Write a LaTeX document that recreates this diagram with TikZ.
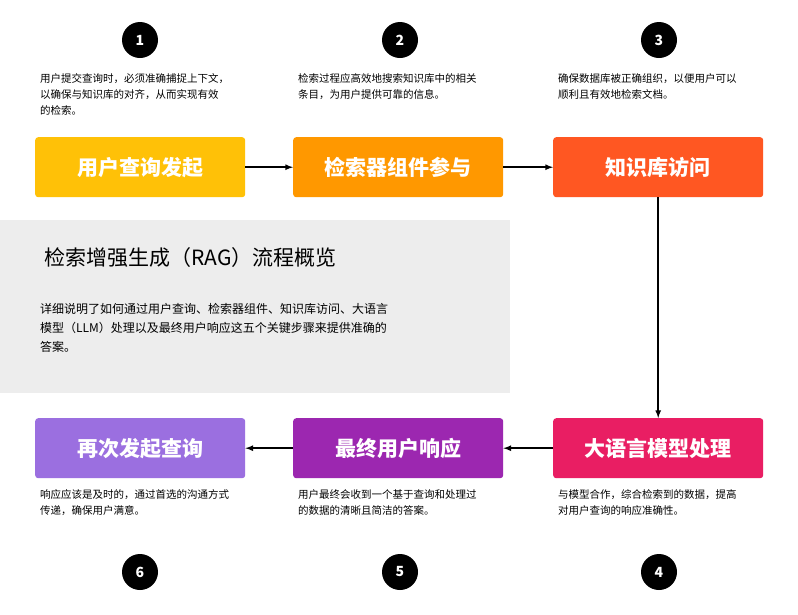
\documentclass[tikz,border=0pt]{standalone}
\usepackage{fontspec}
\setmainfont{Noto Sans CJK SC}
\begin{document}
\begin{tikzpicture}[x=1pt,y=-1pt,
  stepbox/.style={draw=none,rounded corners=3pt,minimum width=210pt,minimum height=60pt,text=white,font=\fontsize{21}{24}\selectfont\bfseries,anchor=north west},
  num/.style={circle,fill=black,minimum size=36pt,text=white,font=\fontsize{14}{16}\selectfont\bfseries,inner sep=0},
  desc/.style={anchor=north west,text width=225pt,font=\fontsize{10.5}{16}\selectfont,inner sep=0,align=left},
  arr/.style={-latex,line width=1.6pt}]
\useasboundingbox (0,0) rectangle (798,614);
\fill[white] (0,0) rectangle (798,614);
\definecolor{c1}{HTML}{FFC107}\definecolor{c2}{HTML}{FF9800}\definecolor{c3}{HTML}{FF5722}
\definecolor{c4}{HTML}{E91E63}\definecolor{c5}{HTML}{9C27B0}\definecolor{c6}{HTML}{9B6FE0}
\fill[gray!14] (0,220) rectangle (510,393);
\node[anchor=west,font=\fontsize{21}{24}\selectfont] (title) at (41,258) {检索增强生成（RAG）流程概览};
\node[desc,text width=420pt,font=\fontsize{12}{19}\selectfont] (d0) at (40,303) {详细说明了如何通过用户查询、检索器组件、知识库访问、大语言\\模型（LLM）处理以及最终用户响应这五个关键步骤来提供准确的\\答案。};
\node[stepbox,fill=c1] (b1) at (35,137) {用户查询发起};
\node[stepbox,fill=c2] (b2) at (293,137) {检索器组件参与};
\node[stepbox,fill=c3] (b3) at (553,137) {知识库访问};
\node[stepbox,fill=c6] (b6) at (35,418) {再次发起查询};
\node[stepbox,fill=c5] (b5) at (293,418) {最终用户响应};
\node[stepbox,fill=c4] (b4) at (553,418) {大语言模型处理};
\node[num] (n1) at (140,40) {1};
\node[num] (n2) at (400,40) {2};
\node[num] (n3) at (659,40) {3};
\node[num] (n6) at (140,572) {6};
\node[num] (n5) at (400,572) {5};
\node[num] (n4) at (659,572) {4};
\node[desc] (t1) at (40,73) {用户提交查询时，必须准确捕捉上下文，\\以确保与知识库的对齐，从而实现有效\\的检索。};
\node[desc] (t2) at (298,73) {检索过程应高效地搜索知识库中的相关\\条目，为用户提供可靠的信息。};
\node[desc] (t3) at (558,73) {确保数据库被正确组织，以便用户可以\\顺利且有效地检索文档。};
\node[desc] (t6) at (40,489) {响应应该是及时的，通过首选的沟通方式\\传递，确保用户满意。};
\node[desc] (t5) at (298,489) {用户最终会收到一个基于查询和处理过\\的数据的清晰且简洁的答案。};
\node[desc] (t4) at (558,489) {与模型合作，综合检索到的数据，提高\\对用户查询的响应准确性。};
\draw[arr] (b1) -- (b2);
\draw[arr] (b2) -- (b3);
\draw[arr] (b3.south) -- (b4.north);
\draw[arr] (b4) -- (b5);
\draw[arr] (b5) -- (b6);
\end{tikzpicture}
\end{document}
